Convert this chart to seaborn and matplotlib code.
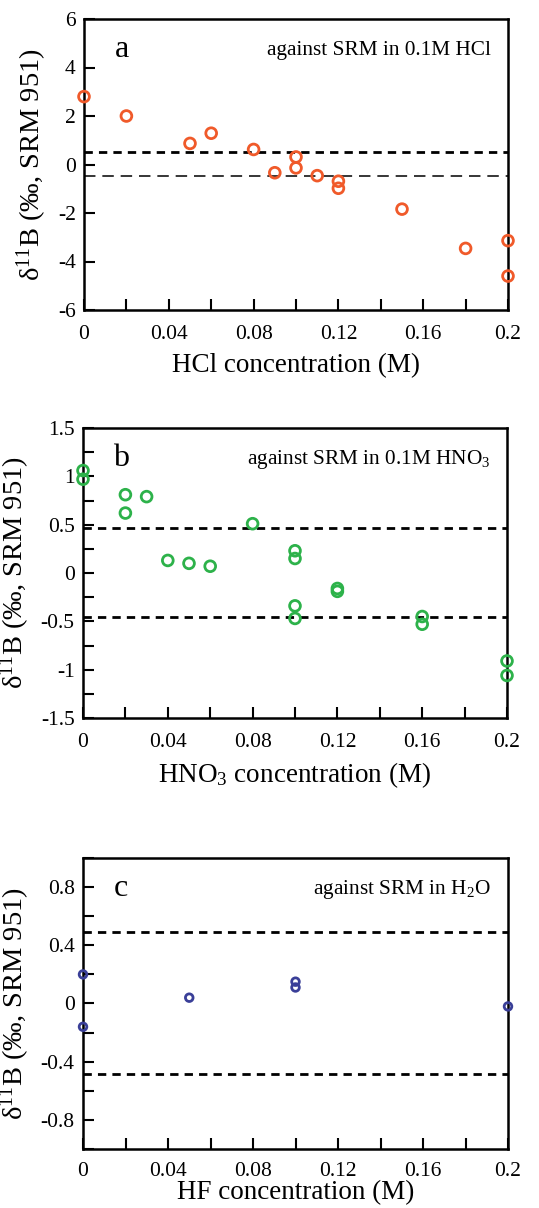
import matplotlib
matplotlib.use("Agg")
import matplotlib.pyplot as plt
import seaborn as sns
import numpy as np
import pandas as pd
from matplotlib.ticker import FixedLocator

# ---- data ----
hcl_conc = [0, 0.02, 0.05, 0.06, 0.08, 0.09, 0.10, 0.10, 0.11, 0.12, 0.12, 0.15, 0.18, 0.20, 0.20]
hcl_d11b = [2.8, 2.0, 0.87, 1.29, 0.62, -0.34, 0.31, -0.14, -0.46, -0.69, -0.98, -1.84, -3.46, -3.14, -4.6]

hno3_conc = [0, 0, 0.02, 0.02, 0.03, 0.04, 0.05, 0.06, 0.08, 0.10, 0.10, 0.10, 0.10, 0.12, 0.12, 0.16, 0.16, 0.20, 0.20]
hno3_d11b = [1.06, 0.97, 0.81, 0.62, 0.79, 0.13, 0.10, 0.07, 0.51, 0.23, 0.15, -0.34, -0.47, -0.16, -0.19, -0.45, -0.53, -0.91, -1.06]

hf_conc = [0, 0, 0.05, 0.10, 0.10, 0.20]
hf_d11b = [0.20, -0.16, 0.04, 0.15, 0.11, -0.02]

hcl_limits = [0.5, -0.48]
hno3_limits = [0.47, -0.46]
hf_limits = [0.49, -0.485]

xticks = [0, 0.04, 0.08, 0.12, 0.16, 0.2]
xtick_labels = ["0", "0.04", "0.08", "0.12", "0.16", "0.2"]

sns.set_theme(style="white")
plt.rcParams['font.family'] = ['Liberation Serif', 'DejaVu Serif']
plt.rcParams['mathtext.fontset'] = 'custom'
plt.rcParams['mathtext.rm'] = 'Liberation Serif'
plt.rcParams['mathtext.it'] = 'Liberation Serif'
plt.rcParams['mathtext.default'] = 'regular'

fig = plt.figure(figsize=(5.39, 12.08), dpi=100)

W, H = 539.0, 1208.0
def axes_at(l, r, t, b):
    return fig.add_axes([l / W, 1 - b / H, (r - l) / W, (b - t) / H])

ax_a = axes_at(84, 508, 19, 310)
ax_b = axes_at(83, 507, 428, 718)
ax_c = axes_at(83, 508, 858, 1149)

ylabel = r"δ$^{11}$B (‰, SRM 951)"

panels = [
    (ax_a, hcl_conc, hcl_d11b, "#F05A2A", 60, hcl_limits, (-6, 6), [-6, -4, -2, 0, 2, 4, 6],
     ["-6", "-4", "-2", "0", "2", "4", "6"], [-6, -4, -2, 0, 2, 4, 6],
     "a", "against SRM in 0.1M HCl", "HCl concentration (M)", [2.0, 1.1], 6, 11),
    (ax_b, hno3_conc, hno3_d11b, "#2DB24A", 60, hno3_limits, (-1.5, 1.5), [-1.5, -1, -0.5, 0, 0.5, 1, 1.5],
     ["-1.5", "-1", "-0.5", "0", "0.5", "1", "1.5"], list(np.arange(-1.5, 1.51, 0.25)),
     "b", r"against SRM in 0.1M HNO$_3$", r"HNO$_3$ concentration (M)", [2.0, 2.0], 6, 11),
    (ax_c, hf_conc, hf_d11b, "#3A3F98", 30, hf_limits, (-1, 1), [-0.8, -0.4, 0, 0.4, 0.8],
     ["-0.8", "-0.4", "0", "0.4", "0.8"], list(np.arange(-1.0, 1.01, 0.2)),
     "c", r"against SRM in H$_2$O", "HF concentration (M)", [2.0, 2.0], 0, 9),
]

for (ax, xs, ys, col, s, lims, ylim, yt, ytl, yminor, letter, note, xlabel, lws, xlpad, xtpad) in panels:
    df = pd.DataFrame({"conc": xs, "d11b": ys})
    for lim, lw in zip(lims, lws):
        dash = (0, (3.0, 2.2)) if lw > 1.5 else (0, (7.5, 4.5))
        ax.axhline(lim, color="black", linestyle=dash, lw=lw, zorder=1)
    sns.scatterplot(data=df, x="conc", y="d11b", ax=ax, marker="o", s=s,
                    facecolor="none", edgecolor=col, linewidth=2.0, clip_on=False, zorder=3)
    ax.set_xlim(0, 0.2)
    ax.set_ylim(*ylim)
    ax.xaxis.set_major_locator(FixedLocator(xticks))
    ax.set_xticklabels(xtick_labels)
    ax.xaxis.set_minor_locator(FixedLocator([0.02, 0.06, 0.10, 0.14, 0.18]))
    ax.yaxis.set_major_locator(FixedLocator(yt))
    ax.set_yticklabels(ytl)
    minor_only = [v for v in yminor if all(abs(v - t) > 1e-9 for t in yt)]
    ax.yaxis.set_minor_locator(FixedLocator(minor_only))
    ax.tick_params(axis="both", which="both", direction="in", length=8, width=1.5,
                   top=False, right=False, bottom=True, left=True, labelsize=15.5, colors="black")
    ax.tick_params(axis="x", which="major", pad=xtpad)
    ax.tick_params(axis="y", which="major", pad=6)
    for sp in ax.spines.values():
        sp.set_linewidth(1.8)
        sp.set_color("black")
        sp.set_visible(True)
    ax.set_xlabel(xlabel, fontsize=19.5, labelpad=xlpad, color="black")
    ax.set_ylabel(ylabel, fontsize=20.5, labelpad=6, color="black")
    ax.text(0.09, 0.895, letter, transform=ax.transAxes, fontsize=23, ha="center", va="center", color="black")
    ax.text(0.96, 0.893, note, transform=ax.transAxes, fontsize=15.3, ha="right", va="center", color="black")
    ax.grid(False)

fig.savefig("out.png", dpi=100, facecolor="white")
